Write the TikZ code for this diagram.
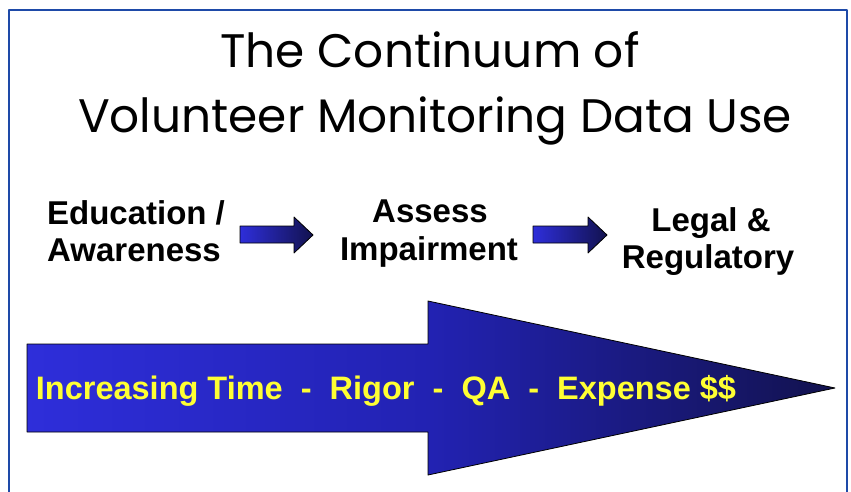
\documentclass[tikz,border=0pt]{standalone}
\usepackage{fontspec}
\setmainfont{Liberation Sans}
\newfontfamily\titlefont{Poppins}
\usepackage{tikz}

\definecolor{framecol}{RGB}{30,74,168}
\definecolor{arrowlight}{RGB}{46,46,218}
\definecolor{arrowmid}{RGB}{34,34,178}
\definecolor{arrowdark}{RGB}{18,18,78}
\definecolor{textyellow}{RGB}{255,255,51}

\tikzset{
  titletext/.style={font=\fontsize{47}{56}\titlefont,anchor=base},
  labeltext/.style={font=\fontsize{33}{37}\selectfont\bfseries,anchor=base},
  blockarrow/.style={draw=black,line width=0.8pt,left color=arrowlight,right color=arrowdark}
}

\begin{document}
\begin{tikzpicture}[line cap=round,line join=round,x=1pt,y=-1pt]
      \useasboundingbox (0,0) rectangle (851,492);
      \clip (0,0) rectangle (851,492);
      \draw[framecol,line width=2.5pt] (9,10) rectangle (847,520);

      % title
      \node[titletext] (ttlone) at (430,68) {The Continuum of};
      \node[titletext] (ttltwo) at (435,133) {Volunteer Monitoring Data Use};

      % the three stages
      \node[labeltext] (eduone) at (136,224) {Education /};
      \node[labeltext] (edutwo) at (134,261) {Awareness};
      \node[labeltext] (assone) at (430,222) {Assess};
      \node[labeltext] (asstwo) at (429,260) {Impairment};
      \node[labeltext] (legone) at (711,231) {Legal \&};
      \node[labeltext] (legtwo) at (708,268) {Regulatory};

      \foreach \sx/\hx in {240/294,533/588}{
        \shadedraw[blockarrow] (\sx,226) -- (\hx,226) -- (\hx,217) -- (\hx+19,235)
          -- (\hx,253) -- (\hx,243) -- (\sx,243) -- cycle;
      }

      % big arrow
      \shadedraw[blockarrow,middle color=arrowmid] (27,344) -- (428,344) -- (428,301) -- (835,388)
        -- (428,475) -- (428,432) -- (27,432) -- cycle;
      \node[font=\fontsize{32.5}{38}\selectfont\bfseries,text=textyellow,anchor=base] (bigtext) at (386,399)
        {Increasing Time\ \ -\ \ Rigor\ \ -\ \ QA\ \ -\ \ Expense \$\$};
    \end{tikzpicture}
\end{document}
